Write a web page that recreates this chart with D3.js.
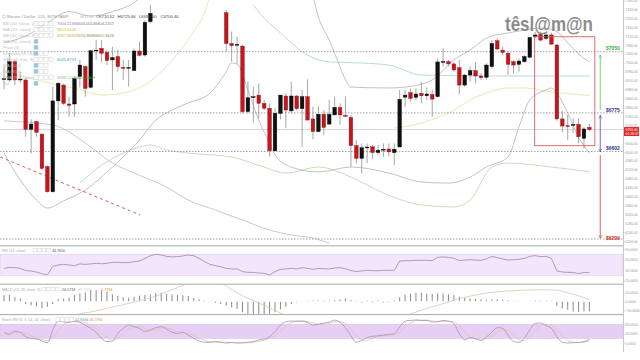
<!DOCTYPE html>
<html><head><meta charset="utf-8">
<script src="https://cdn.jsdelivr.net/npm/d3@7"></script>
<style>body{margin:0;background:#fff}svg{display:block}text{font-family:"Liberation Sans",Arial,sans-serif}</style>
</head><body><svg id="c" width="640" height="360"></svg>
<script>
// ---- candles (null = above visible range) ----
const N = 109;
const open  = [6926,6923,7005,6925,6923,6701,6736,6680,6534,6421, 6829,6900,6815,6815,6938,6983,6890,7054,7065,7047, 7013,7028,6979,6977,6965,7053,7035,7185,null,null, null,null,null,null,null,null,null,null,null,null, null,7225,7087,7081,7075,6781,6846,6855,6818,6796, 6605,6773,6851,6784,6851,6794,6848,6748,6691,6769, 6725,6766,6800,6764,6755,6628,6571,6620,6623,6597, 6610,6613,6597,6622,6846,6866,6845,6863,6852,6858, 6848,7004,7005,6995,6978,6900,6945,6965,6941,6935, 6983,7099,7057,7043,7005,6993,7005,7025,7117,7128, 7110,7125,7080,6748,6718,6721,6724,6661,6710.52];
const high  = [6983,7043,7013,6960,6930,6746,6740,6683,6541,6893, 6915,6908,6848,6938,7013,6990,7057,7102,7102,7057, 7072,7057,7013,7013,7065,7095,7192,7260,null,null, null,null,null,null,null,null,null,null,null,null, null,7237,7140,7117,7080,6915,6893,6908,6833,6818, 6796,6855,6863,6915,6855,6878,6926,6803,6806,6788, 6833,6848,6818,6848,6766,6653,6638,6638,6631,6631, 6638,6638,6638,6878,6878,6885,6885,6915,6890,6878, 7020,7065,7013,7005,7013,6950,6983,7005,6953,6998, 7102,7110,7072,7050,7013,7020,7035,7117,7140,7140, 7135,7135,7085,6785,6766,6751,6751,6713,6725.66];
const low   = [6881,6915,6900,6908,6668,6593,6668,6519,6417,6417, 6743,6811,6758,6758,6890,6848,6885,7013,7005,6990, 6878,6960,6923,6893,6963,7028,7028,7178,null,null, null,null,null,null,null,null,null,null,null,null, null,7050,7005,6998,6773,6773,6731,6751,6788,6579, 6601,6746,6706,6773,6788,6623,6743,6656,6688,6676, 6721,6766,6721,6758,6534,6549,6504,6549,6567,6586, 6579,6579,6541,6622,6803,6826,6833,6818,6833,6758, 6845,6983,6983,6960,6860,6893,6915,6908,6923,6923, 6975,7057,7035,6945,6953,6960,7000,7020,7110,7095, 7102,7080,6740,6688,6653,6686,6638,6616,6695];
const close = [6929,7005,6923,6927,6701,6725,6688,6526,6421,6829, 6908,6818,6809,6930,6990,6885,7054,7057,7043,7010, 7023,6983,6978,6979,7053,7034,7182,7222,null,null, null,null,null,null,null,null,null,null,null,null, null,7087,7077,7083,6781,6843,6848,6818,6796,6605, 6773,6855,6788,6851,6794,6848,6743,6691,6769,6710, 6769,6800,6766,6761,6628,6571,6619,6622,6597,6608, 6612,6600,6612,6836,6855,6840,6860,6852,6860,6837, 7004,7006,6995,6968,6900,6945,6965,6941,6933,6990, 7087,7062,7047,6993,6990,7008,7028,7114,7125,7102, 7125,7084,6748,6716,6716,6723,6668,6703,6700.40];

// ---- overlay lines on price chart: [candle index, price], null = break ----
const bbUpper = [[0,7090],[4,7120],[8,7180],[12,7230],[16,7210],[20,7230],[24,7270],[26,7310],null,
  [57,7300],[58,7206],[60,7102],[62,6981],[63,6923],[64,6891],[71,6887],[74,6891],[79,6923],[83,7013],[86,7058],[89,7111],[93,7134],[96,7147],[99,7156],[101,7150],[102,7140],[104,7090],[106,7040],[108,7004]];
const bbLower = [[0,6595],[3,6474],[6,6384],[8,6348],[11,6380],[15,6429],[20,6532],[25,6653],[28,6743],[31,6788],[34,6820],[38,6864],[41,6960],[42,6999],[43,6995],[45,6878],[47,6743],[49,6640],[50,6586],[53,6532],[58,6510],[64,6532],[71,6505],[77,6465],[82,6460],[86,6487],[89,6532],[93,6577],[95,6712],[97,6833],[100,6878],[101,6887],[102,6864],[104,6775],[106,6667],[108,6595]];
const longMA  = [[0,6739],[9,6721],[15,6640],[20,6550],[24,6505],[30,6442],[34,6384],[39,6339],[44,6294],[49,6249],[53,6227],[57,6213],[60,6190]];
const midBand = [[46,7260],[47,7228],[51,7134],[56,7035],[60,7004],[66,6999],[71,6990],[77,6945],[88,6941],[108,6941]];
const ma20    = [[0,6960],[5,6930],[10,6900],[14,6880],[18,6855],[23,6870],[26,6900],[29,6960],[32,7040],[35,7140],[37,7224],[38,7300],null,
  [72,6707],[77,6730],[83,6788],[86,6833],[89,6864],[93,6887],[96,6887],[101,6869],[107,6855],[108,6852]];
const greenLow = [[14,6460],[18,6540],[22,6595],[25,6622],[27,6631],[30,6609],[34,6595],[42,6577],[48,6532],[52,6505],[58,6532],[64,6487],[70,6415],[77,6362],[83,6353],[86,6384],[90,6532],[93,6550],[101,6532],[108,6511]];
const trendLine = [[-0.7,6577],[25.1,6317]];

// ---- levels ----
const levels = [7050, 6775, 6602, 6209];
const levelLabels = ["$7050","$6775","$6602","$6209"];
const levelColors = ["#33bb33","#33338a","#33338a","#cc2222"];
const lastPrice = 6700.40;
const boxIdx = [97.9, 109.0], boxPrice = [7117, 6628];

// ---- indicators ----
const rsi = [43,45,44.5,43,39,38,36,33,30.5,47, 49.5,50.8,49.5,48.3,51.5,50.8,51.5,52.7,52,52.7, 54.5,54.5,54,54,55.9,57,62,67.3,69.8,68.6, 66,65,65.5,66.7,68.6,67.3,62,56,50.8,48.3, 46.3,43,42,42,37,35.5,35.5,34.3,33.6,30.5, 37,41.3,42,43,42,44.4,43,41.3,43,42.5, 42,43.8,44.4,42.5,39,37,38.1,39.4,38.7,38.7, 39.4,39.4,39.4,57,57.8,57.8,58.4,58.4,58.4,57.8, 64.1,64.8,64.1,62.2,57.8,59,59.6,59,58.4,61, 66,63.5,61,59,59.6,60.3,62.2,66,67.3,65.4, 66,62.2,38.1,36.2,35.5,35.5,33,35.5,34.8];
const macdHist = [37,37,24,18,-14,-22,-28,-38,-30,-15, 15,18,22,37,46,52,65,65,62,56, 41,32,24,22,26,33,37,40,48,50, 44,40,37,35,32,20,12,5,-3,-8, -14,-24,-33,-43,-62,-76,-76,-76,-76,-70, -60,-45,-30,-15,-4,3,4,5,6,1, 1,8,12,18,8,0,-2,2,-2,2, -2,-2,2,25,40,45,50,50,46,43, 46,46,40,37,28,22,18,15,13,9, 13,13,9,7,3,3,3,3,5,5, 5,3,-26,-40,-47,-57,-60,-57,-56];
const macdLine = [[13,-80],[14,-70],[16,-60],[18,-47],[20,-32],[22,-18],[24,-4],[26,13],[28,30],[30,56],[32,79],[34,105],null,
  [39,115],[40,100],[41,90],[42,67],[43,50],[44,33],[45,20],[46,5],[47,-8],[48,-22],[49,-38],[50,-48],[51,-66],[52,-78],[53,-90],null,
  [73,-95],[74,-82],[75,-70],[76,-60],[77,-50],[78,-40],[79,-30],[80,-22],[81,-12],[82,-3],[83,9],[84,16],[85,24],[86,31],[87,37],[88,43],[89,48],[90,52],[91,55],[92,58],[93,60],[94,62],[95,64],[96,65],[97,66],[98,67],[99,67],[100,67],[101,66],[102,65],[103,58],[104,50],[105,42],[106,33],[107,22],[108,9]];
const stochK = [46,37,51,46,27,20,17,9,1,56, 94,91,89,94,89,77,63,46,20,6, 9,41,63,77,70,63,49,56,66,70, 60,46,41,46,34,20,9,3,3,6, 3,0,2,0,1,3,6,13,17,27, 49,77,91,94,94,94,89,77,80,86, 90,98,89,66,31,3,11,23,29,31, 34,37,40,69,94,97,99,97,97,90, 91,97,94,83,40,14,23,18,11,26, 46,66,63,34,6,3,20,56,84,86, 74,63,27,3,0,1,2,6,15];
const stochD = [45,43,45,45,41,31,21,15,9,22, 50,80,91,91,91,87,76,62,43,24, 12,19,38,60,70,70,61,56,57,64, 65,59,49,44,40,33,21,11,5,4, 4,3,2,1,1,1,3,7,12,19, 31,51,72,87,93,94,92,87,82,81, 85,91,92,84,62,33,15,12,21,28, 31,34,37,49,68,87,97,98,98,95, 93,93,94,91,72,46,26,18,17,18, 28,46,58,54,34,14,10,26,53,75, 81,74,55,31,10,4,2,4,9];

// ---- tick labels ----
const priceTicks = d3.range(6200, 7281, 40);
const rsiTicks = [80,60,40,20];
const macdTicks = [50,0,-50];
const stochTicks = [80,40,0];

// ---- legend texts ----
const titleText = "Bitcoin / Dollar, 120, BITSTAMP";
const ohlcValues = ["O6710.52","H6725.66","L6695.00","C6700.40"];
const legendRows = [
  {y:25, name:"BB (20, close, 2)", boxes:4, vals:[["7004.1138","#a273c8"],["6603.0014","#7d6f9c"],["6804.2257","#7d6f9c"]]},
  {y:31, name:"MA (20, close)", boxes:4, vals:[["6852.2426","#cdbf2a"]]},
  {y:37, name:"BB (30, close, 3)", boxes:4, vals:[["6937.6833","#c2b238"],["7074.3848","#8d7f46"],["6601.3618","#7d8f46"]]},
  {y:43, name:"MA (50, close)", boxes:1, vals:[]},
  {y:49, name:"Pivot (4)", boxes:1, vals:[]},
  {y:55, name:"Ichimoku (9, 26)", boxes:3, vals:[]},
  {y:61, name:"SAR (4, true, 3)", boxes:4, vals:[["6645.8793","#3fa7c2"]]},
  {y:67, name:"MA (100)", boxes:3, vals:[]},
  {y:73, name:"MA (200)", boxes:3, vals:[]},
  {y:79, name:"EMA (50, close)", boxes:4, vals:[["6688.5470","#8fbf8f"],["6821.9609","#3fb23f"]]},
  {y:85, name:"Vol", boxes:1, vals:[]}
];

// ================= drawing =================
const svg = d3.select("#c");
const R = 623; // right edge of plot
const x = d3.scaleLinear().domain([0,108]).range([4,589.4]);
const y = d3.scaleLinear().domain([6200,7280]).range([241,0.45]);
const yR = d3.scaleLinear().domain([20,80]).range([280.5,249]);
const yM = d3.scaleLinear().domain([-50,50]).range([310.25,292.75]);
const yS = d3.scaleLinear().domain([0,80]).range([343,324.4]);

const defs = svg.append("defs");
function clip(id,y0,h){defs.append("clipPath").attr("id",id).append("rect").attr("x",0).attr("y",y0).attr("width",R).attr("height",h);}
clip("cm",0,245); clip("cr",246,38); clip("cmd",284.5,30); clip("cs",315,40);
[["ag","#4ccc4c"],["ab","#4646a0"],["ar","#d03a3a"]].forEach(([id,c])=>{
  defs.append("marker").attr("id",id).attr("viewBox","0 0 10 10").attr("refX",9).attr("refY",5)
   .attr("markerWidth",5).attr("markerHeight",5).attr("orient","auto-start-reverse")
   .append("path").attr("d","M1,1 L9,5 L1,9").attr("fill","none").attr("stroke",c).attr("stroke-width",1.4);
});

// panel backgrounds
svg.append("rect").attr("x",0).attr("width",R).attr("y",yR(70)).attr("height",yR(30)-yR(70)).attr("fill","#f3e5fb").attr("stroke","#dcc6ea").attr("stroke-width",0.5);
svg.append("rect").attr("x",0).attr("width",R).attr("y",yS(80)).attr("height",yS(20)-yS(80)).attr("fill","#e6cff5").attr("stroke","#d4b8ea").attr("stroke-width",0.5);

// main panel
const gm = svg.append("g").attr("clip-path","url(#cm)");
const lineP = d3.line().defined(d=>d!==null).x(d=>x(d[0])).y(d=>y(d[1])).curve(d3.curveMonotoneX);
function ov(data,color,w){gm.append("path").datum(data).attr("d",lineP).attr("fill","none").attr("stroke",color).attr("stroke-width",w);}
ov(longMA,"#bdbdbd",0.8);
ov(greenLow,"#b9ddb0",0.9);
ov(ma20,"#ece3a6",0.9);
ov(midBand,"#add7db",0.9);
ov(bbUpper,"#b3b3b3",0.8);
ov(bbLower,"#b3b3b3",0.8);
gm.append("path").datum(trendLine).attr("d",d3.line().x(d=>x(d[0])).y(d=>y(d[1]))).attr("fill","none").attr("stroke","#d04a4a").attr("stroke-width",0.9).attr("stroke-dasharray","3,3");

// levels
gm.selectAll("line.lv").data(levels).join("line").attr("class","lv").attr("x1",0).attr("x2",R)
  .attr("y1",d=>y(d)).attr("y2",d=>y(d)).attr("stroke","#8a8a8a").attr("stroke-width",0.8).attr("stroke-dasharray","1.5,1.5");
gm.append("line").attr("x1",0).attr("x2",R).attr("y1",y(lastPrice)).attr("y2",y(lastPrice)).attr("stroke","#d6cccc").attr("stroke-width",0.8);

// candles
const idx = d3.range(N).filter(i=>open[i]!==null);
gm.selectAll("line.wk").data(idx).join("line").attr("class","wk")
  .attr("x1",i=>x(i)).attr("x2",i=>x(i)).attr("y1",i=>y(high[i])).attr("y2",i=>y(low[i]))
  .attr("stroke","#8f8f8f").attr("stroke-width",0.8);
gm.selectAll("rect.bd").data(idx).join("rect").attr("class","bd")
  .attr("x",i=>x(i)-1.8).attr("width",3.6)
  .attr("y",i=>y(Math.max(open[i],close[i])))
  .attr("height",i=>Math.max(0.9,Math.abs(y(open[i])-y(close[i]))))
  .attr("fill",i=>close[i]>=open[i]?"#111":"#c4161c")
  .attr("stroke",i=>close[i]>=open[i]?"#000":"#8e0f12").attr("stroke-width",0.4);

// box and arrows
gm.append("rect").attr("x",x(boxIdx[0])).attr("width",x(boxIdx[1])-x(boxIdx[0]))
  .attr("y",y(boxPrice[0])).attr("height",y(boxPrice[1])-y(boxPrice[0]))
  .attr("fill","none").attr("stroke","#d9605f").attr("stroke-width",0.9);
const ax = x(110);
svg.append("line").attr("x1",ax).attr("x2",ax).attr("y1",y(6788)).attr("y2",y(7035)).attr("stroke","#4ccc4c").attr("stroke-width",0.8).attr("marker-end","url(#ag)");
svg.append("line").attr("x1",ax).attr("x2",ax).attr("y1",y(6764)).attr("y2",y(6600)).attr("stroke","#4646a0").attr("stroke-width",0.8).attr("marker-end","url(#ab)").attr("marker-start","url(#ab)");
svg.append("line").attr("x1",ax).attr("x2",ax).attr("y1",y(6586)).attr("y2",y(6213)).attr("stroke","#d03a3a").attr("stroke-width",0.8).attr("marker-end","url(#ar)");
svg.selectAll("text.lvl").data(levels).join("text").attr("class","lvl")
  .attr("x",606).attr("y",(d,i)=>y(d)-(i==3?-1.5:1.2)).attr("font-size",5).attr("font-weight","bold")
  .attr("fill",(d,i)=>levelColors[i]).text((d,i)=>levelLabels[i]);

// watermark
svg.append("text").attr("x",505).attr("y",31).attr("font-size",21).attr("font-weight","bold")
  .attr("fill","#8c8c8c").attr("textLength",88).attr("lengthAdjust","spacingAndGlyphs").text("têsl@m@n");

// RSI
const gr = svg.append("g").attr("clip-path","url(#cr)");
gr.append("path").datum(rsi).attr("d",d3.line().x((d,i)=>x(i)).y(d=>yR(d))).attr("fill","none").attr("stroke","#9f86ae").attr("stroke-width",0.8);

// MACD
const gmd = svg.append("g").attr("clip-path","url(#cmd)");
gmd.selectAll("line").data(macdHist).join("line").attr("x1",(d,i)=>x(i)).attr("x2",(d,i)=>x(i))
  .attr("y1",d=>yM(0)+(d>=0?-0.3:0.3)).attr("y2",d=>yM(d)+(Math.abs(d)<3?(d>=0?-0.7:0.7):0)).attr("stroke","#7d7d7d").attr("stroke-width",0.9);
gmd.append("path").datum(macdLine).attr("d",d3.line().defined(d=>d!==null).x(d=>x(d[0])).y(d=>yM(d[1])).curve(d3.curveMonotoneX))
  .attr("fill","none").attr("stroke","#dcc8ab").attr("stroke-width",0.8);

// Stoch RSI
const gs = svg.append("g").attr("clip-path","url(#cs)");
gs.append("path").datum(stochD).attr("d",d3.line().x((d,i)=>x(i)).y(d=>yS(d)).curve(d3.curveMonotoneX)).attr("fill","none").attr("stroke","#dcc6a4").attr("stroke-width",0.8);
gs.append("path").datum(stochK).attr("d",d3.line().x((d,i)=>x(i)).y(d=>yS(d)).curve(d3.curveMonotoneX)).attr("fill","none").attr("stroke","#a592b4").attr("stroke-width",0.8);

// separators
[245.8,284.2,314.6].forEach(v=>svg.append("line").attr("x1",0).attr("x2",R).attr("y1",v).attr("y2",v).attr("stroke","#a9a9a9").attr("stroke-width",1));

// axes
function axis(scale,ticks,fmt){
  const g = svg.append("g").attr("transform",`translate(${R},0)`)
    .call(d3.axisRight(scale).tickValues(ticks).tickFormat(d3.format(fmt)).tickSize(1.5).tickPadding(1));
  g.selectAll("text").attr("font-size",3.4).attr("fill","#9a9a9a").attr("font-family","Liberation Sans, Arial, sans-serif");
  g.selectAll("line").attr("stroke","#c8c8c8");
  g.select(".domain").attr("stroke","#c8c8c8");
}
axis(y,priceTicks,".2f");
axis(yR,rsiTicks,".4f");
axis(yM,macdTicks,".4f");
axis(yS,stochTicks,".4f");
svg.append("line").attr("x1",R+0.5).attr("x2",R+0.5).attr("y1",0).attr("y2",352).attr("stroke","#c8c8c8").attr("stroke-width",1);

// last price tag
svg.append("rect").attr("x",624).attr("y",y(lastPrice)-2.5).attr("width",15).attr("height",9).attr("fill","#e32424");
svg.append("text").attr("x",625.5).attr("y",y(lastPrice)+1.5).attr("font-size",3.4).attr("fill","#fff").text(d3.format(".2f")(lastPrice));
svg.append("text").attr("x",625.5).attr("y",y(lastPrice)+5.5).attr("font-size",3.4).attr("fill","#fff").text("01:18:57");

// legend
const lg = svg.append("g").attr("font-size",4.4);
lg.append("circle").attr("cx",4).attr("cy",16.5).attr("r",1.6).attr("fill","none").attr("stroke","#aaa").attr("stroke-width",0.5);
lg.append("text").attr("x",7).attr("y",18).attr("fill","#9a9a9a").text(titleText);
lg.append("text").attr("x",80).attr("y",18).attr("font-size",3.8).attr("fill","#b8b8b8").text("0695.00");
ohlcValues.forEach((v,i)=>{
  lg.append("text").attr("x",96 + i*21.5).attr("y",18).attr("font-size",4.2).attr("fill","#444").text(v);
});
legendRows.forEach(r=>{
  lg.append("text").attr("x",3).attr("y",r.y).attr("fill","#bdbdbd").text(r.name);
  for(let k=0;k<r.boxes;k++){
    lg.append("rect").attr("x",34+k*5).attr("y",r.y-3.6).attr("width",4).attr("height",4)
      .attr("fill",(k==0&&r.vals.length==0)?"#8fc9d6":"#fff").attr("stroke","#c9c9c9").attr("stroke-width",0.4);
  }
  r.vals.forEach((v,k)=>lg.append("text").attr("x",57+k*19).attr("y",r.y).attr("font-size",4).attr("fill",v[1]).text(v[0]));
});
// panel legends
function plg(yy,name,vals){
  const g = svg.append("g").attr("font-size",3.6);
  g.append("text").attr("x",2).attr("y",yy).attr("fill","#a8a8a8").text(name);
  for(let k=0;k<4;k++) g.append("rect").attr("x",vals[0][2]-19+k*4.5).attr("y",yy-3.2).attr("width",3.6).attr("height",3.6).attr("fill","#fff").attr("stroke","#c9c9c9").attr("stroke-width",0.4);
  vals.forEach(v=>g.append("text").attr("x",v[2]).attr("y",yy).attr("fill",v[1]).text(v[0]));
}
plg(251.5,"RSI (14, close)",[["34.7650","#555",52]]);
plg(290.5,"MACD (12, 26, close, 9)",[["-56.5718","#555",61],["-49.7924","#cfcfcf",77],["-5.7794","#d4882a",100]]);
plg(321,"Stoch RSI (3, 3, 14, 14, close)",[["14.9446","#3fa7c2",75],["16.7794","#d4882a",89]]);
</script></body></html>
